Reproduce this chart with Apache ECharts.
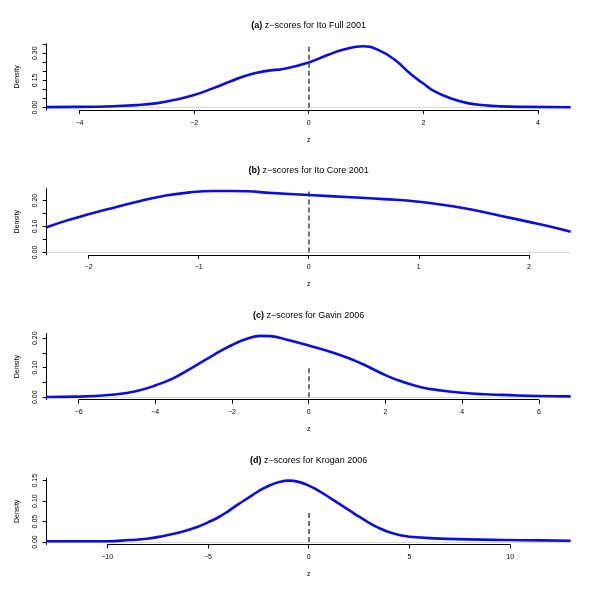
<!DOCTYPE html>
<html><head><meta charset="utf-8">
<script src="https://cdn.jsdelivr.net/npm/echarts@6/dist/echarts.min.js"></script>
<style>html,body{margin:0;padding:0;background:#fff}#c{width:600px;height:595px}</style>
</head><body><div id="c"></div>
<script>
// ---- data ----
const tagA = '(a)', titleA = 'z\u2212scores for Ito Full 2001';
const zA = [-4.57,-4.0,-3.4,-3.0,-2.64,-2.35,-2.0,-1.65,-1.36,-1.07,-0.75,-0.4,0,0.34,0.63,0.95,1.21,1.5,1.79,2.0,2.19,2.48,2.77,3.06,3.35,3.8,4.57];
const dA = [0.003,0.004,0.008,0.014,0.025,0.042,0.069,0.109,0.145,0.179,0.201,0.216,0.249,0.291,0.322,0.338,0.318,0.264,0.182,0.133,0.091,0.051,0.025,0.013,0.007,0.004,0.002];
const xLimA = [-4.57, 4.57];
const xTicksA = [-4,-2,0,2,4];
const yTicksA = [0,0.05,0.10,0.15,0.20,0.25,0.30,0.35];
const yLabelsA = [0,0.15,0.30];
const dashTopA = 0.335;

const tagB = '(b)', titleB = 'z\u2212scores for Ito Core 2001';
const zB = [-2.38,-2.23,-2.0,-1.77,-1.53,-1.32,-1.08,-0.86,-0.71,-0.56,-0.35,0,0.38,0.68,1.0,1.29,1.5,1.75,2.0,2.2,2.38];
const dB = [0.097,0.119,0.147,0.173,0.199,0.218,0.232,0.237,0.237,0.236,0.230,0.222,0.213,0.206,0.196,0.179,0.164,0.141,0.118,0.099,0.080];
const xLimB = [-2.38, 2.38];
const xTicksB = [-2,-1,0,1,2];
const yTicksB = [0,0.05,0.10,0.15,0.20];
const yLabelsB = [0,0.10,0.20];
const dashTopB = 0.235;

const tagC = '(c)', titleC = 'z\u2212scores for Gavin 2006';
const zC = [-6.83,-6.0,-5.0,-4.48,-4.0,-3.52,-3.0,-2.48,-2.0,-1.61,-1.26,-1.0,-0.54,0,0.68,1.2,1.54,2.0,2.41,2.93,3.45,4.0,4.58,5.06,6.0,6.83];
const dC = [0.001,0.002,0.010,0.021,0.040,0.065,0.103,0.143,0.177,0.198,0.208,0.207,0.194,0.175,0.149,0.124,0.104,0.075,0.054,0.034,0.023,0.015,0.010,0.008,0.004,0.003];
const xLimC = [-6.83, 6.83];
const xTicksC = [-6,-4,-2,0,2,4,6];
const yTicksC = [0,0.05,0.10,0.15,0.20];
const yLabelsC = [0,0.10,0.20];
const dashTopC = 0.105;

const tagD = '(d)', titleD = 'z\u2212scores for Krogan 2006';
const zD = [-13.0,-10.0,-8.87,-8.03,-7.2,-6.37,-5.53,-5.0,-4.5,-4.0,-3.5,-3.0,-2.5,-2.0,-1.5,-1.0,-0.5,0,0.5,1.0,1.5,2.0,2.5,3.0,3.5,4.0,4.5,5.0,6.24,7.89,9.6,11.5,13.0];
const dD = [0.002,0.002,0.005,0.008,0.015,0.024,0.037,0.048,0.060,0.075,0.092,0.108,0.124,0.137,0.146,0.150,0.147,0.138,0.125,0.110,0.094,0.078,0.062,0.047,0.034,0.024,0.017,0.013,0.009,0.0065,0.005,0.004,0.003];
const xLimD = [-13.0, 13.0];
const xTicksD = [-10,-5,0,5,10];
const yTicksD = [0,0.05,0.10,0.15];
const yLabelsD = [0,0.05,0.10,0.15];
const dashTopD = 0.077;

// ---- build ----
const panels = [
  {tag:tagA,title:titleA,z:zA,d:dA,xlim:xLimA,xt:xTicksA,yt:yTicksA,yl:yLabelsA,dash:dashTopA},
  {tag:tagB,title:titleB,z:zB,d:dB,xlim:xLimB,xt:xTicksB,yt:yTicksB,yl:yLabelsB,dash:dashTopB},
  {tag:tagC,title:titleC,z:zC,d:dC,xlim:xLimC,xt:xTicksC,yt:yTicksC,yl:yLabelsC,dash:dashTopC},
  {tag:tagD,title:titleD,z:zD,d:dD,xlim:xLimD,xt:xTicksD,yt:yTicksD,yl:yLabelsD,dash:dashTopD}
];
const FONT = 'Liberation Sans, Arial, Helvetica, sans-serif';
const GL = 46.7, GR = 29.3, GT0 = 43.8, STEP = 144.8, GH = 66.3;
const fmtX = v => (v < 0 ? '\u2212' : '') + Math.abs(v);
const option = {animation:false, textStyle:{fontFamily:FONT}, title:[], grid:[], xAxis:[], yAxis:[], series:[]};
panels.forEach((p, i) => {
  const ymax = Math.max(...p.d);
  const ylo = -0.04 * ymax, yhi = 1.04 * ymax;
  const top = GT0 + STEP * i;
  option.title.push({
    text: '{b|' + p.tag + '} ' + p.title,
    left: (GL + (600 - GR)) / 2, textAlign: 'center', top: top - 22.3, padding: 0,
    textStyle: {fontSize: 9, fontWeight: 'normal', color: '#000', fontFamily: FONT,
      rich: {b: {fontSize: 9, fontWeight: 'bold', color: '#000', fontFamily: FONT}}}
  });
  option.grid.push({left: GL, right: GR, top: top, height: GH});
  option.xAxis.push({
    type: 'value', gridIndex: i, min: p.xlim[0], max: p.xlim[1],
    axisLine: {show: false, onZero: false},
    axisTick: {show: true, length: 4, customValues: p.xt, lineStyle: {color: '#000', width: 1}},
    axisLabel: {customValues: p.xt, formatter: fmtX, fontSize: 7, margin: 9, color: '#000'},
    splitLine: {show: false},
    name: 'z', nameLocation: 'middle', nameGap: 26, nameTextStyle: {fontSize: 7, color: '#000'}
  });
  option.yAxis.push({
    type: 'value', gridIndex: i, min: ylo, max: yhi,
    axisLine: {show: true, onZero: false, lineStyle: {color: '#000', width: 1}},
    axisTick: {show: true, length: 4, customValues: p.yt, lineStyle: {color: '#000', width: 1}},
    axisLabel: {customValues: p.yl, rotate: 90, formatter: v => v.toFixed(2), fontSize: 7, margin: 8, color: '#000'},
    splitLine: {show: false},
    name: 'Density', nameLocation: 'middle', nameGap: 26, nameTextStyle: {fontSize: 7, color: '#000'}
  });
  option.series.push({
    type: 'line', xAxisIndex: i, yAxisIndex: i,
    data: p.z.map((z, k) => [z, p.d[k]]),
    smooth: 0.5, showSymbol: false, symbol: 'none',
    lineStyle: {color: '#0c0cdc', width: 2.6}, z: 5,
    markLine: {
      silent: true, symbol: ['none', 'none'], animation: false, label: {show: false},
      data: [
        {yAxis: 0, lineStyle: {color: '#d0d0d0', width: 0.8, type: 'solid'}},
        [{coord: [0, 0], lineStyle: {color: '#5f7585', width: 2, type: [5, 3]}}, {coord: [0, p.dash]}],
        [{coord: [p.xt[0], ylo], lineStyle: {color: '#000', width: 1, type: 'solid'}}, {coord: [p.xt[p.xt.length - 1], ylo]}]
      ]
    }
  });
});
const chart = echarts.init(document.getElementById('c'));
chart.setOption(option);
</script>
</body></html>
